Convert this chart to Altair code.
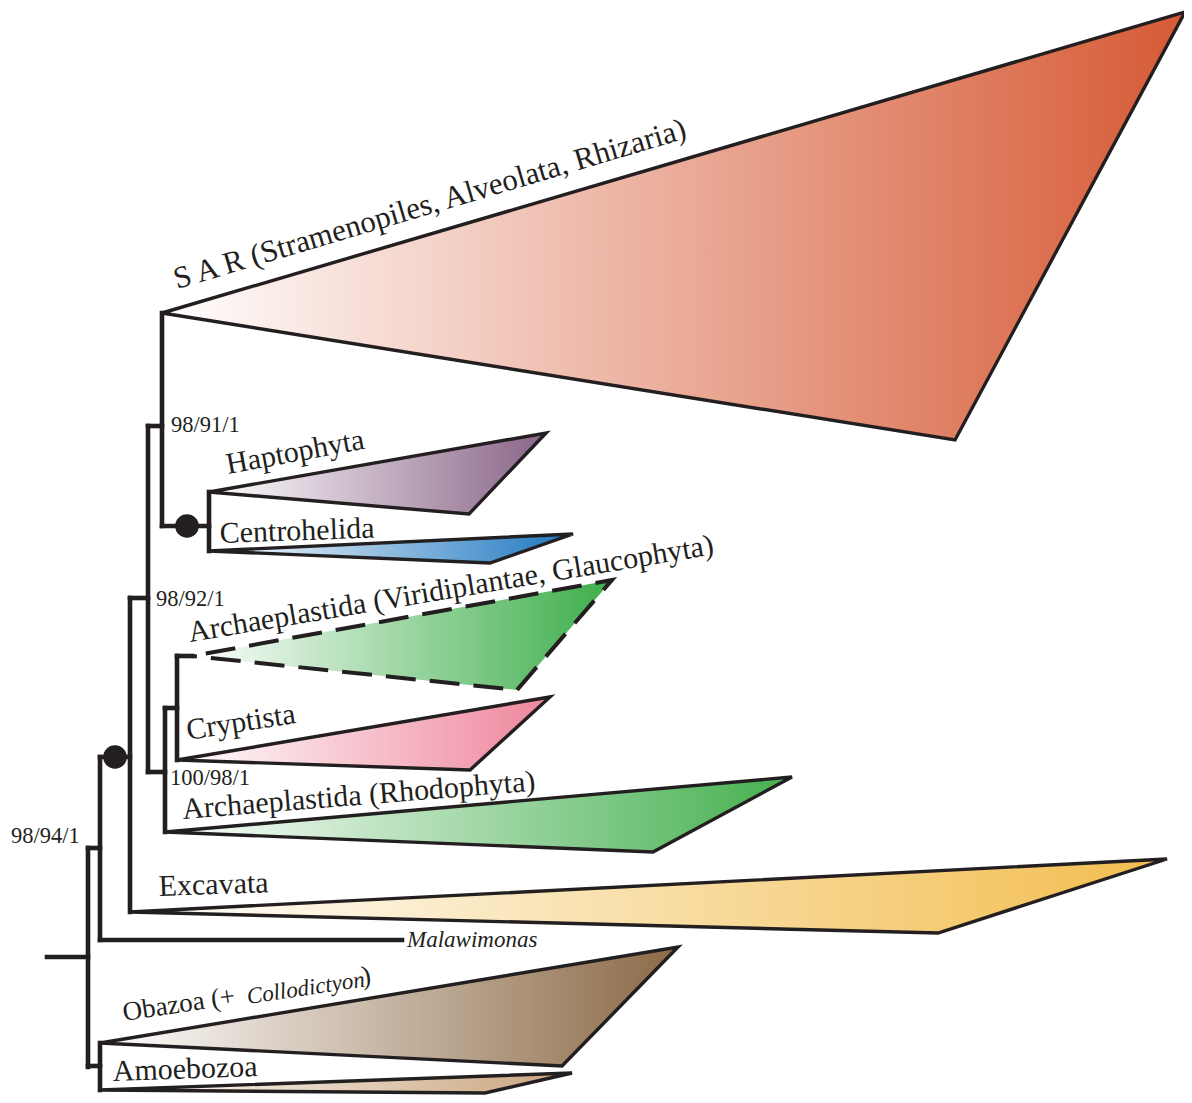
import altair as alt
import pandas as pd

# ---------------- data (image pixel coordinates) ----------------
clades = ["SAR", "Haptophyta", "Centrohelida", "Archaeplastida (Viridiplantae, Glaucophyta)",
          "Cryptista", "Archaeplastida (Rhodophyta)", "Excavata", "Obazoa", "Amoebozoa"]
apex_x = [162, 209, 209, 192, 177, 165, 130, 100, 100]
apex_y = [313, 492, 551, 656, 760, 832, 912, 1043, 1090]
top_x = [1185, 546, 573, 612, 550, 792, 1167, 678, 572]
top_y = [12, 433, 534, 580, 697, 777, 859, 947, 1073]
bot_x = [955, 469, 490, 517, 470, 653, 938, 562, 485]
bot_y = [440, 514, 563, 690, 770, 852, 933, 1066, 1093]
clade_colors = ["#D65A35", "#8A6588", "#1E77C0", "#3DAE4A", "#EE869C",
                "#45B04F", "#F2BD4E", "#8C6A47", "#C9A47C"]
dashed = [False, False, False, True, False, False, False, False, False]

# tree branches
seg_x1 = [47, 88, 88, 100, 100, 100, 130, 130, 148, 148, 162, 162, 209, 148, 165, 165, 177, 177, 88]
seg_y1 = [957, 848, 848, 757, 940, 757, 598, 598, 426, 426, 313, 526, 492, 772, 708, 708, 656, 656, 1066]
seg_x2 = [88, 88, 100, 100, 402, 130, 130, 148, 148, 162, 162, 209, 209, 165, 165, 177, 177, 192, 100]
seg_y2 = [957, 1067, 848, 940, 940, 757, 912, 598, 772, 426, 526, 526, 551, 772, 832, 708, 760, 656, 1066]
vseg_x = [100]
vseg_y1 = [1043]
vseg_y2 = [1090]

# node dots
dot_x = [187, 115]
dot_y = [526, 757]

# labels (roman)
lab_text = ["S A R (Stramenopiles, Alveolata, Rhizaria)", "Haptophyta", "Centrohelida",
            "Archaeplastida (Viridiplantae, Glaucophyta)", "Cryptista", "Archaeplastida (Rhodophyta)",
            "Excavata", "Obazoa (+", ")", "Amoebozoa",
            "98/91/1", "98/92/1", "100/98/1", "98/94/1"]
lab_x = [177, 228, 220, 190, 188, 183, 159, 124, 363, 113, 171, 156, 170, 11]
lab_y = [289, 474, 543, 642, 740, 819, 896, 1021, 985, 1081, 432, 606, 785, 843]
lab_angle = [343.5, 349.5, 358, 350.5, 351, 355.4, 358, 351.5, 351.5, 358, 0, 0, 0, 0]
lab_size = [31, 30, 30, 30, 30, 30, 30, 27, 27, 30, 22.5, 22.5, 22.5, 22.5]

# labels (italic)
it_text = ["Collodictyon", "Malawimonas"]
it_x = [248, 407]
it_y = [1004, 947]
it_angle = [351.5, 0]
it_size = [23, 23]

INK = "#231F20"
FONT = "Liberation Serif"

xs = alt.Scale(domain=[8, 1184], nice=False, zero=False)
ys = alt.Scale(domain=[8, 1095], nice=False, zero=False, reverse=True)

layers = []

# triangles
for i, name in enumerate(clades):
    df = pd.DataFrame({
        "x": [apex_x[i], top_x[i], bot_x[i]],
        "y": [apex_y[i], top_y[i], bot_y[i]],
        "k": [0, 1, 2],
        "clade": [name] * 3,
    })
    grad = {
        "gradient": "linear", "x1": 0, "y1": 0, "x2": 1, "y2": 0,
        "stops": [{"offset": 0, "color": "#ffffff"}, {"offset": 1, "color": clade_colors[i]}],
    }
    kw = dict(interpolate="linear-closed", fill=grad, stroke=INK, strokeWidth=3.4,
              strokeJoin="miter")
    if dashed[i]:
        kw.update(strokeDash=[30, 14], strokeDashOffset=30, strokeWidth=4)
    layers.append(
        alt.Chart(df).mark_line(**kw).encode(
            x=alt.X("x:Q", scale=xs, axis=None),
            y=alt.Y("y:Q", scale=ys, axis=None),
            order="k:O",
        )
    )

segs = pd.DataFrame({"x": seg_x1, "y": seg_y1, "x2": seg_x2, "y2": seg_y2})
layers.append(
    alt.Chart(segs).mark_rule(color=INK, strokeWidth=4.6, strokeCap="square").encode(
        x=alt.X("x:Q", scale=xs, axis=None), y=alt.Y("y:Q", scale=ys, axis=None),
        x2="x2:Q", y2="y2:Q",
    )
)
vseg = pd.DataFrame({"x": vseg_x, "y": vseg_y1, "y2": vseg_y2})
layers.append(
    alt.Chart(vseg).mark_rule(color=INK, strokeWidth=4.6, strokeCap="square").encode(
        x=alt.X("x:Q", scale=xs, axis=None), y=alt.Y("y:Q", scale=ys, axis=None), y2="y2:Q",
    )
)

dots = pd.DataFrame({"x": dot_x, "y": dot_y})
layers.append(
    alt.Chart(dots).mark_circle(color=INK, opacity=1, size=560).encode(
        x=alt.X("x:Q", scale=xs, axis=None), y=alt.Y("y:Q", scale=ys, axis=None),
    )
)

labs = pd.DataFrame({"label": lab_text, "x": lab_x, "y": lab_y, "angle": lab_angle, "size": lab_size})
layers.append(
    alt.Chart(labs).mark_text(align="left", baseline="alphabetic", font=FONT, color=INK).encode(
        x=alt.X("x:Q", scale=xs, axis=None), y=alt.Y("y:Q", scale=ys, axis=None),
        text="label:N", angle=alt.Angle("angle:Q", scale=None), size=alt.Size("size:Q", scale=None),
    )
)
its = pd.DataFrame({"label": it_text, "x": it_x, "y": it_y, "angle": it_angle, "size": it_size})
layers.append(
    alt.Chart(its).mark_text(align="left", baseline="alphabetic", font=FONT, fontStyle="italic",
                             color=INK).encode(
        x=alt.X("x:Q", scale=xs, axis=None), y=alt.Y("y:Q", scale=ys, axis=None),
        text="label:N", angle=alt.Angle("angle:Q", scale=None), size=alt.Size("size:Q", scale=None),
    )
)

chart = alt.layer(*layers).properties(
    width=1176, height=1087, autosize=alt.AutoSizeParams(type="none"), padding=0,
).configure_view(stroke=None)

chart.save("out.html", embed_options={"renderer": "svg", "actions": False})
